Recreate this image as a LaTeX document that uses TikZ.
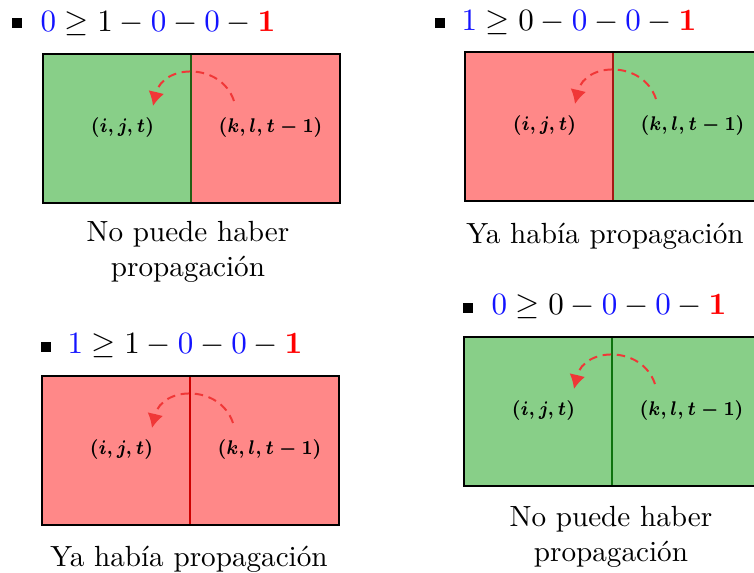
\documentclass[tikz,border=0pt]{standalone}
\usepackage{graphicx}
\usetikzlibrary{arrows.meta}
\definecolor{gfill}{RGB}{136,207,136}
\definecolor{rfill}{RGB}{255,136,136}
\definecolor{gdiv}{RGB}{35,95,20}
\definecolor{gdivb}{RGB}{15,115,15}
\definecolor{rdiv}{RGB}{165,25,20}
\definecolor{rdivb}{RGB}{205,0,0}
\definecolor{mblue}{RGB}{20,20,255}
\definecolor{arrred}{RGB}{240,55,55}
\tikzset{
  frame/.style={draw=black, line width=0.9pt},
  divline/.style={line width=1pt},
  lab/.style={font=\fontsize{7.2}{8}\selectfont\boldmath, inner sep=0pt, anchor=base},
  flow/.style={draw=arrred, dash pattern=on 3pt off 2pt, line width=0.7pt, -{Latex[length=5pt,width=5.6pt]}},
  bulletsq/.style={fill=black, minimum size=3.2pt, inner sep=0pt},
  formula/.style={inner sep=0pt, anchor=base west, font=\fontsize{11.3}{13}\selectfont},
  caption/.style={inner sep=0pt, anchor=base, font=\fontsize{10.3}{12}\selectfont}
}
\newcommand\mypanel[6]{%
  \begin{scope}[shift={(#2,#3)}]
    \fill[#4] (0,0) rectangle (148,149);
    \fill[#5] (148,0) rectangle (297,149);
    \draw[divline, #6] (148,0) -- (148,149);
    \draw[frame] (0,0) rectangle (297,149);
    \node[lab] (#1a) at (79.5,79) {\scalebox{0.87}[1]{$(i,j,t)$}};
    \node[lab] (#1b) at (227.5,79) {\scalebox{0.87}[1]{$(k,l,t-1)$}};
    \coordinate (#1s) at (191,47);
    \coordinate (#1e) at (110,52);
    \draw[flow] (#1s) .. controls (178,8) and (120,10) .. (#1e);
  \end{scope}}
\newcommand\bz{{\color{mblue}0}}
\newcommand\bo{{\color{mblue}1}}
\newcommand\ro{{\color{red}\mathbf{1}}}
\begin{document}
\begin{tikzpicture}[x=0.353pt,y=-0.353pt]
\useasboundingbox (0,0) rectangle (754,573);
% top-left
\node[bulletsq] (tlbul) at (17,23) {};
\node[formula] (tlf) at (40,32) {$\bz \geq 1 - \bz - \bz - \ro$};
\mypanel{tl}{43}{54}{gfill}{rfill}{gdiv}
\node[caption] (tlc1) at (188,242) {No puede haber};
\node[caption] (tlc2) at (188,277) {propagación};
% top-right
\node[bulletsq] (trbul) at (440,23) {};
\node[formula] (trf) at (461,31) {$\bo \geq 0 - \bz - \bz - \ro$};
\mypanel{tr}{465}{52}{rfill}{gfill}{rdiv}
\node[caption] (trc) at (605,244) {Ya había propagación};
% middle-right
\node[bulletsq] (mrbul) at (468,308) {};
\node[formula] (mrf) at (491,315) {$\bz \geq 0 - \bz - \bz - \ro$};
\mypanel{mr}{464}{337}{gfill}{gfill}{gdivb}
\node[caption] (mrc1) at (611,527) {No puede haber};
\node[caption] (mrc2) at (611,562) {propagación};
% bottom-left
\node[bulletsq] (blbul) at (46,347) {};
\node[formula] (blf) at (67,354) {$\bo \geq 1 - \bz - \bz - \ro$};
\mypanel{bl}{42}{376}{rfill}{rfill}{rdivb}
\node[caption] (blc) at (189,567) {Ya había propagación};
\end{tikzpicture}
\end{document}
